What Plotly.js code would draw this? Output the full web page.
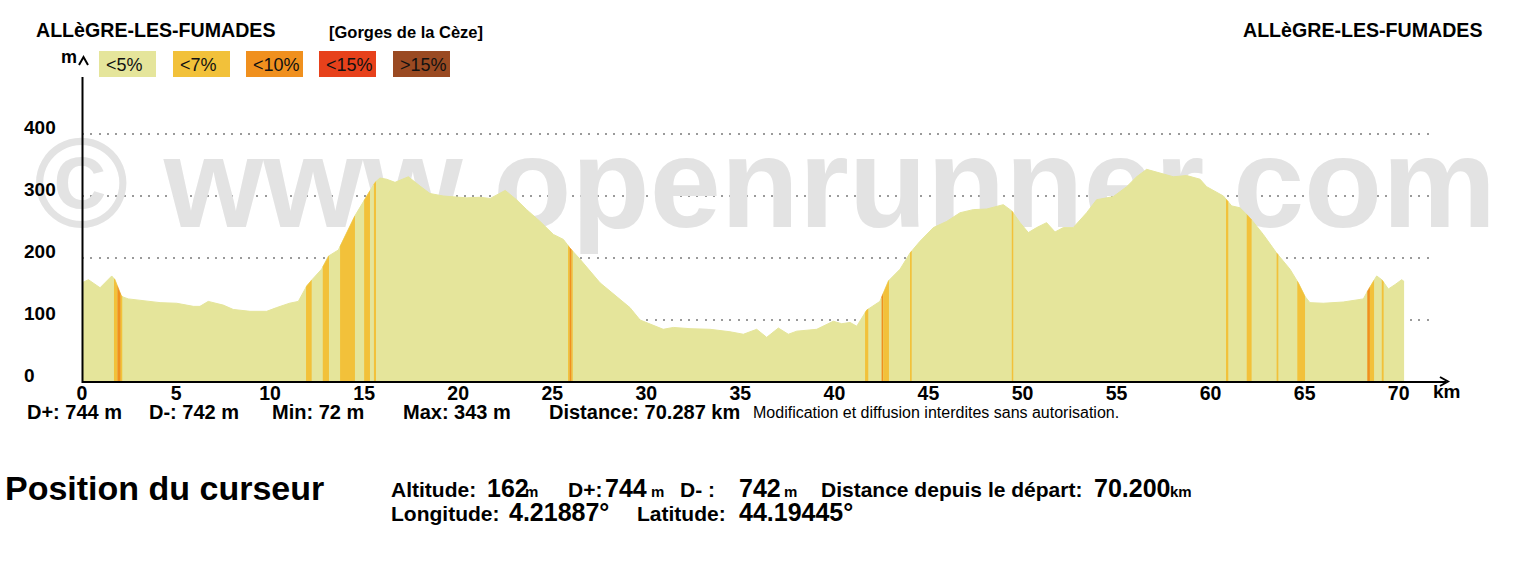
<!DOCTYPE html>
<html><head><meta charset="utf-8">
<script src="https://cdn.plot.ly/plotly-3.0.1.min.js"></script>
<style>html,body{margin:0;padding:0;background:#fff;}#chart{width:1526px;height:571px;}</style>
</head><body><div id="chart"></div>
<script>
// ---------- DATA ----------
const distKm = [0,0.34,0.96,1.58,1.75,2.1,2.46,3.26,4.15,5.03,5.92,6.27,6.71,7.51,8.04,8.93,9.82,10.35,11.03,11.5,11.95,12.2,12.74,13.1,13.63,14.51,15.14,15.58,15.84,16.2,16.64,17.35,17.97,18.5,19.2,20.45,21.16,21.7,22.5,23.1,23.64,24.35,25.06,25.59,25.94,26.48,27.54,28.43,29.13,29.67,30.2,30.9,31.44,32.32,33.39,34.45,35.16,35.87,36.4,37.02,37.55,38.0,39.06,39.94,40.39,40.83,41.19,41.72,42.42,42.87,43.49,44.02,44.55,45.26,45.97,46.68,47.38,48.1,48.98,49.43,49.87,50.31,50.75,51.28,51.73,52.17,52.7,53.41,53.94,54.83,55.54,56.07,56.6,57.31,58.02,58.73,59.44,59.79,60.68,61.12,61.56,62.09,62.8,63.51,64.22,64.66,65.02,65.28,65.99,67.05,68.12,68.39,68.83,69.1,69.45,69.8,70.16,70.287];
const elevM = [160,165,152,171,165,138,134,131,128,127,122,122,130,124,117,114,114,120,127,130,155,164,182,203,213,268,300,322,329,327,322,331,316,304,300,297,298,296,309,294,278,259,238,230,216,198,160,138,120,100,93,85,88,86,85,81,77,85,72,87,77,82,85,98,94,96,90,116,130,163,182,208,227,249,259,273,278,279,286,276,257,241,249,257,242,249,249,273,294,299,315,331,343,337,331,333,327,315,300,284,281,265,238,208,182,160,138,128,127,129,134,149,171,165,150,157,165,162];
// steep sections: start km, end km, slope class index (1 = <7%, 2 = <10%)
const bandStartKm = [1.70,1.88,2.06,11.91,12.80,13.72,15.00,15.52,25.84,25.92,26.03,41.63,42.51,42.60,44.02,49.43,60.82,61.92,63.51,64.61,68.33,68.47,69.10];
const bandEndKm   = [1.88,2.06,2.14,12.21,13.13,14.51,15.31,15.63,25.92,26.03,26.09,41.80,42.60,42.90,44.11,49.51,60.94,62.18,63.60,65.02,68.47,68.69,69.20];
const bandClass   = [1,2,1,1,1,1,1,1,1,2,1,1,2,1,1,1,1,1,1,1,2,1,1];
const slopeLabels = ['<5%','<7%','<10%','<15%','>15%'];
const slopeColors = ['#e5e59b','#f2c13a','#f0901e','#e7411b','#9a4a22'];
const xTickVals = [0,5,10,15,20,25,30,35,40,45,50,55,60,65,70];
const yTickVals = [0,100,200,300,400];
const placeName = 'ALLèGRE-LES-FUMADES';
const subtitle = '[Gorges de la Cèze]';
const watermark = '© www.openrunner.com';
const statsTexts = ['D+: 744 m','D-: 742 m','Min: 72 m','Max: 343 m','Distance: 70.287 km'];
const noticeText = 'Modification et diffusion interdites sans autorisation.';
const cursorTitle = 'Position du curseur';
const cursorLabels1 = ['Altitude:','D+:','D- :','Distance depuis le départ:'];
const cursorValues1 = ['162','744','742','70.200'];
const cursorUnits1  = ['m','m','m','km'];
const cursorLabels2 = ['Longitude:','Latitude:'];
const cursorValues2 = ['4.21887°','44.19445°'];

// ---------- LAYOUT HELPERS ----------
const W = 1526, H = 571;
const PL = 82, PR = 1432, PT = 77, PB = 382;
const PXKM = 18.81, PXM = 0.62;
const xMax = (PR - PL) / PXKM, yMax = (PB - PT) / PXM;
const px = x => (x - PL) / (PR - PL);
const py = y => (PB - y) / (PB - PT);
const FONT = 'Liberation Sans, Arial, Helvetica, sans-serif';

function interp(x){
  for (let i = 0; i < distKm.length - 1; i++){
    if (x >= distKm[i] && x <= distKm[i+1]){
      const t = (x - distKm[i]) / (distKm[i+1] - distKm[i]);
      return elevM[i] + t * (elevM[i+1] - elevM[i]);
    }
  }
  return elevM[elevM.length-1];
}

const traces = [];
// watermark (behind profile)
traces.push({
  x: [36.31], y: [301], mode: 'text', text: [watermark], textposition: 'middle center',
  textfont: {family: FONT, size: 128, color: '#e3e3e3', weight: 'bold'},
  hoverinfo: 'skip', showlegend: false, cliponaxis: false
});
// base profile
traces.push({
  x: distKm, y: elevM, mode: 'lines', fill: 'tozeroy',
  fillcolor: slopeColors[0], line: {color: slopeColors[0], width: 1},
  hoverinfo: 'skip', showlegend: false
});
// steep bands
bandStartKm.forEach((s, i) => {
  const e = bandEndKm[i];
  const xs = [s], ys = [interp(s)];
  distKm.forEach((d, j) => { if (d > s && d < e){ xs.push(d); ys.push(elevM[j]); } });
  xs.push(e); ys.push(interp(e));
  traces.push({
    x: xs, y: ys, mode: 'lines', fill: 'tozeroy', fillcolor: slopeColors[bandClass[i]],
    line: {color: slopeColors[bandClass[i]], width: 0.5}, hoverinfo: 'skip', showlegend: false
  });
});

const annotations = [];
function ann(text, x, baseline, size, bold, extra){
  annotations.push(Object.assign({
    text: text, xref: 'paper', yref: 'paper', x: px(x), y: py(baseline - 0.35 * size),
    xanchor: 'left', yanchor: 'middle', showarrow: false, borderpad: 0,
    font: {family: FONT, size: size, color: '#000', weight: bold ? 'bold' : 'normal'}
  }, extra || {}));
}
ann(placeName, 35, 37, 19.6, true);
ann(subtitle, 328, 38, 16.5, true);
ann(placeName, 1242, 37, 19.6, true);
// legend boxes
const legendLeft = [99,173,246,319,393];
const shapes = [];
slopeLabels.forEach((lab, i) => {
  shapes.push({type: 'rect', xref: 'paper', yref: 'paper', x0: px(legendLeft[i]), x1: px(legendLeft[i] + 57),
    y0: py(77), y1: py(51), fillcolor: slopeColors[i], line: {width: 0}, layer: 'above'});
  ann(lab, legendLeft[i] + 6, 71, 18, false, {font: {family: FONT, size: 18, color: '#111'}});
});
ann('m', 60, 63, 18, true);
ann('km', 1432, 398, 19, true);
// y tick labels (left aligned)
yTickVals.forEach(v => ann(String(v), 23, PB - v * PXM, 19, true));
// stats line
const statsLeft = [26,148,271,402,548];
statsTexts.forEach((t, i) => ann(t, statsLeft[i], 419, 20, true));
ann(noticeText, 752, 418, 16, false);
// cursor panel
ann(cursorTitle, 4, 500, 34, true);
const c1Label = [390,567,679,820], c1Val = [486,604,738,1093], c1Unit = [524,650,783,1169];
cursorLabels1.forEach((t, i) => {
  ann(t, c1Label[i], 497, 21, true);
  ann(cursorValues1[i], c1Val[i], 497, 25, true);
  ann(cursorUnits1[i], c1Unit[i], 497, 15, true);
});
const c2Label = [390,636], c2Val = [508,738];
cursorLabels2.forEach((t, i) => {
  ann(t, c2Label[i], 521, 21, true);
  ann(cursorValues2[i], c2Val[i], 521, 25, true);
});

// axis lines & arrows
shapes.push({type: 'line', xref: 'paper', yref: 'paper', x0: px(82.5), x1: px(82.5), y0: py(383), y1: py(77), line: {color: '#000', width: 2}, layer: 'above'});
shapes.push({type: 'line', xref: 'paper', yref: 'paper', x0: px(82), x1: px(1446), y0: py(382), y1: py(382), line: {color: '#000', width: 2}, layer: 'above'});
shapes.push({type: 'path', xref: 'paper', yref: 'paper',
  path: `M ${px(1440)} ${py(377)} L ${px(1448)} ${py(381.5)} L ${px(1440)} ${py(386)}`,
  line: {color: '#000', width: 2}, layer: 'above'});
shapes.push({type: 'path', xref: 'paper', yref: 'paper',
  path: `M ${px(79)} ${py(65)} L ${px(83.5)} ${py(57)} L ${px(88)} ${py(65)}`,
  line: {color: '#000', width: 2}, layer: 'above'});

const layout = {
  width: W, height: H, margin: {l: PL, r: W - PR, t: PT, b: H - PB},
  paper_bgcolor: '#fff', plot_bgcolor: '#fff', showlegend: false,
  xaxis: {range: [0, xMax], tickvals: xTickVals, ticktext: xTickVals.map(String), showgrid: false, zeroline: false,
    showline: false, ticks: '', ticklen: 0, ticklabelstandoff: -3,
    tickfont: {family: FONT, size: 19.5, color: '#000', weight: 'bold'}, fixedrange: true},
  yaxis: {range: [0, yMax], tickvals: [100,200,300,400], showticklabels: false, showgrid: true,
    gridcolor: '#9a9a9a', gridwidth: 1.5, griddash: '2px,6.3px', zeroline: false, showline: false, ticks: '', fixedrange: true},
  annotations: annotations, shapes: shapes
};
Plotly.newPlot('chart', traces, layout, {staticPlot: true, displayModeBar: false});
</script></body></html>
